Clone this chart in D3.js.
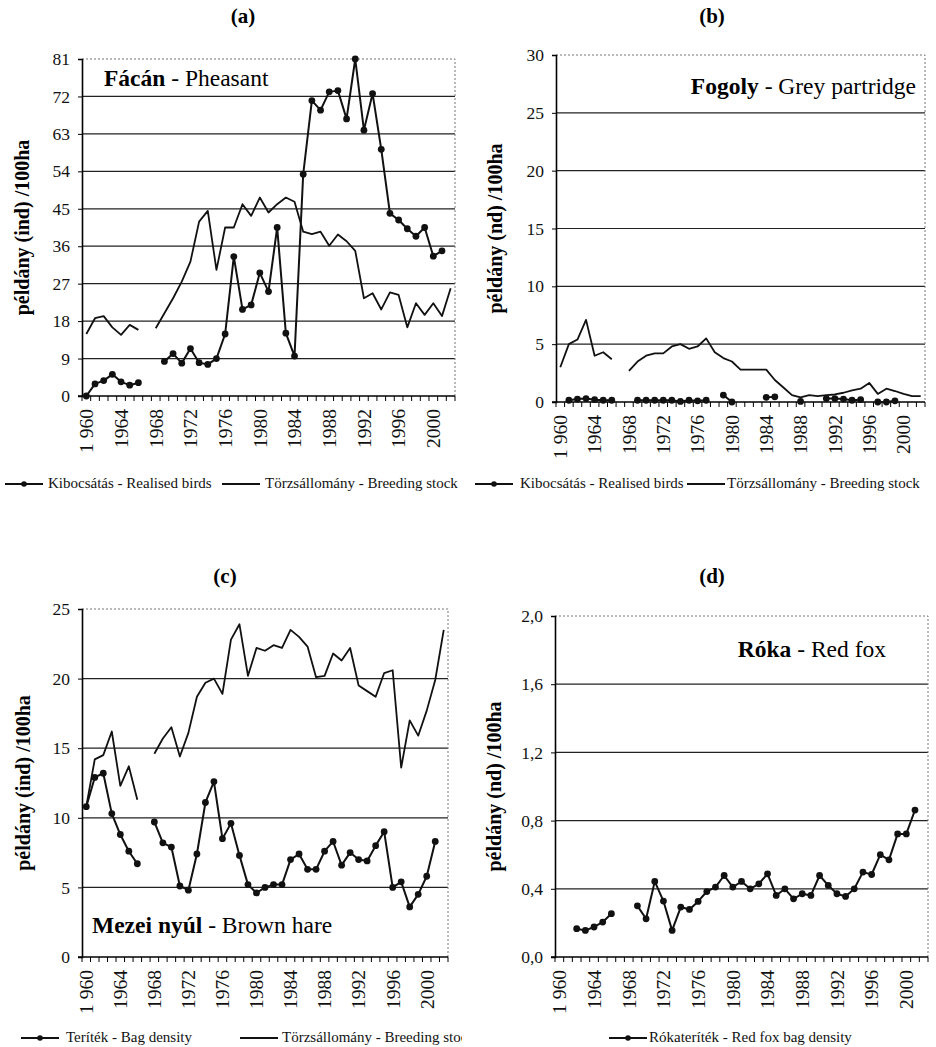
<!DOCTYPE html>
<html>
<head>
<meta charset="utf-8">
<script src="https://cdn.jsdelivr.net/npm/d3@7"></script>
<style>
  body { margin: 0; background: #fff; }
  svg { display: block; font-family: "Liberation Serif", "Times New Roman", serif; }
</style>
</head>
<body>
<script>
'use strict';

const years = [1960, 1961, 1962, 1963, 1964, 1965, 1966, 1967, 1968, 1969,
  1970, 1971, 1972, 1973, 1974, 1975, 1976, 1977, 1978, 1979,
  1980, 1981, 1982, 1983, 1984, 1985, 1986, 1987, 1988, 1989,
  1990, 1991, 1992, 1993, 1994, 1995, 1996, 1997, 1998, 1999,
  2000, 2001, 2002];
const labelYears = [1960, 1964, 1968, 1972, 1976, 1980, 1984, 1988, 1992, 1996, 2000];
const yearLabels = ['1 960', '1964', '1968', '1972', '1976', '1980', '1984', '1988', '1992', '1996', '2000'];

// (a) Fácán - Pheasant
const pheasantReleased = [0, 2.9, 3.7, 5.2, 3.4, 2.6, 3.2, null, null, 8.3,
  10.2, 7.9, 11.4, 8.0, 7.6, 9.0, 14.9, 33.5, 20.8, 21.9,
  29.6, 25.1, 40.5, 15.1, 9.6, 53.3, 71.0, 68.7, 73.1, 73.4,
  66.6, 81.0, 63.9, 72.7, 59.3, 43.9, 42.3, 40.2, 38.4, 40.5,
  33.6, 34.9, null];
const pheasantStock = [14.9, 18.7, 19.2, 16.5, 14.7, 17.1, 15.9, null, 16.3, 19.9,
  23.5, 27.5, 32.3, 41.9, 44.5, 30.3, 40.5, 40.5, 46.1, 43.3,
  47.7, 44.1, 46.1, 47.7, 46.7, 39.5, 38.9, 39.5, 36.1, 38.8,
  37.2, 34.9, 23.5, 24.7, 20.8, 24.9, 24.3, 16.5, 22.3, 19.5,
  22.3, 19.2, 25.9];

// (b) Fogoly - Grey partridge
const partridgeReleased = [null, 0.15, 0.25, 0.3, 0.2, 0.15, 0.15, null, null, 0.15,
  0.15, 0.15, 0.15, 0.15, 0.05, 0.15, 0.1, 0.15, null, 0.6,
  0, null, null, null, 0.4, 0.45, null, null, 0.05, null,
  null, 0.3, 0.3, 0.25, 0.15, 0.2, null, 0, 0, 0.1,
  null, null, null];
const partridgeStock = [3.0, 5.0, 5.4, 7.1, 4.0, 4.3, 3.7, null, 2.7, 3.5,
  4.0, 4.2, 4.2, 4.8, 5.0, 4.6, 4.8, 5.5, 4.3, 3.8,
  3.5, 2.8, 2.8, 2.8, 2.8, 1.9, 1.25, 0.6, 0.4, 0.6,
  0.5, 0.6, 0.65, 0.8, 1.0, 1.15, 1.65, 0.7, 1.15, 0.95,
  0.7, 0.5, 0.5];

// (c) Mezei nyúl - Brown hare
const hareBag = [10.8, 12.9, 13.2, 10.3, 8.8, 7.6, 6.7, null, 9.7, 8.2,
  7.9, 5.1, 4.8, 7.4, 11.1, 12.6, 8.5, 9.6, 7.3, 5.2,
  4.6, 5.0, 5.2, 5.2, 7.0, 7.4, 6.3, 6.3, 7.6, 8.3,
  6.6, 7.5, 7.0, 6.9, 8.0, 9.0, 5.0, 5.4, 3.6, 4.5,
  5.8, 8.3, null];
const hareStock = [10.8, 14.2, 14.5, 16.2, 12.3, 13.7, 11.3, null, 14.6, 15.7,
  16.5, 14.4, 16.1, 18.7, 19.7, 20.0, 18.9, 22.8, 23.9, 20.2,
  22.2, 22.0, 22.4, 22.2, 23.5, 23.0, 22.3, 20.1, 20.2, 21.8,
  21.3, 22.2, 19.5, 19.1, 18.7, 20.4, 20.6, 13.6, 17.0, 15.9,
  17.7, 19.9, 23.5];

// (d) Róka - Red fox
const foxBag = [null, null, 0.166, 0.156, 0.176, 0.205, 0.254, null, null, 0.30,
  0.224, 0.443, 0.328, 0.156, 0.293, 0.279, 0.326, 0.384, 0.41, 0.478,
  0.41, 0.443, 0.40, 0.429, 0.488, 0.361, 0.40, 0.341, 0.371, 0.361,
  0.478, 0.42, 0.371, 0.355, 0.40, 0.498, 0.484, 0.60, 0.57, 0.722,
  0.722, 0.862, null];

const ticksA = [0, 9, 18, 27, 36, 45, 54, 63, 72, 81];
const ticksB = [0, 5, 10, 15, 20, 25, 30];
const ticksC = [0, 5, 10, 15, 20, 25];
const ticksD = [0, 0.4, 0.8, 1.2, 1.6, 2.0];

const comma = (d) => d.toFixed(1).replace('.', ',');

const panels = [
  {
    box: [82, 455, 59, 396], ticks: ticksA, fmt: String, letter: '(a)', letterX: 243, letterY: 23,
    yTitle: 'példány (ind) /100ha', yTitleX: 22,
    name: ['Fácán', ' - Pheasant'], nameX: 104, nameY: 86, nameAnchor: 'start',
    dots: pheasantReleased, line: pheasantStock,
    legendY: 488,
    legend: [
      { dot: true, x: 5, tx: 48, text: 'Kibocsátás - Realised birds' },
      { dot: false, x: 222, tx: 265, text: 'Törzsállomány - Breeding stock' },
    ],
  },
  {
    box: [556, 925, 55, 402], ticks: ticksB, fmt: String, letter: '(b)', letterX: 712, letterY: 23,
    yTitle: 'példány (nd) /100ha', yTitleX: 495,
    name: ['Fogoly', ' - Grey partridge'], nameX: 916, nameY: 94, nameAnchor: 'end',
    dots: partridgeReleased, line: partridgeStock,
    legendY: 488,
    legend: [
      { dot: true, x: 475, tx: 520, text: 'Kibocsátás - Realised birds' },
      { dot: false, x: 687, tx: 727, text: 'Törzsállomány - Breeding stock' },
    ],
  },
  {
    box: [82, 448, 609, 957], ticks: ticksC, fmt: String, letter: '(c)', letterX: 225, letterY: 583,
    yTitle: 'példány (ind) /100ha', yTitleX: 23,
    name: ['Mezei nyúl', ' - Brown hare'], nameX: 92, nameY: 933, nameAnchor: 'start',
    dots: hareBag, line: hareStock,
    legendY: 1042,
    legend: [
      { dot: true, x: 21, tx: 66, text: 'Teríték - Bag density' },
      { dot: false, x: 240, tx: 282, text: 'Törzsállomány - Breeding stock', clip: 462 },
    ],
  },
  {
    box: [555, 928, 616, 957], ticks: ticksD, fmt: comma, letter: '(d)', letterX: 712, letterY: 583,
    yTitle: 'példány (nd) /100ha', yTitleX: 494,
    name: ['Róka', ' - Red fox'], nameX: 886, nameY: 657, nameAnchor: 'end',
    dots: foxBag, line: null,
    legendY: 1042,
    legend: [
      { dot: true, x: 609, tx: 649, text: 'Rókateríték - Red fox bag density' },
    ],
  },
];

const svg = d3.select('body').append('svg')
  .attr('width', 936)
  .attr('height', 1047);

svg.append('defs').append('clipPath')
  .attr('id', 'legclip')
  .append('rect').attr('x', 0).attr('y', 1000).attr('width', 462).attr('height', 47);

panels.forEach(drawPanel);

function drawPanel(p) {
  const [x0, x1, y0, y1] = p.box;
  const x = d3.scaleBand().domain(years).range([x0, x1]);
  const cx = (yr) => x(yr) + x.bandwidth() / 2;
  const y = d3.scaleLinear().domain([0, d3.max(p.ticks)]).range([y1, y0]);
  const g = svg.append('g');

  // gridlines
  g.append('g').selectAll('line')
    .data(p.ticks.slice(1, -1))
    .enter().append('line')
    .attr('x1', x0).attr('x2', x1)
    .attr('y1', (d) => y(d)).attr('y2', (d) => y(d))
    .attr('stroke', '#222').attr('stroke-width', 1.2);

  // dotted top and right border
  g.append('path')
    .attr('d', `M${x0},${y0}H${x1}V${y1}`)
    .attr('fill', 'none')
    .attr('stroke', '#777')
    .attr('stroke-width', 1)
    .attr('stroke-dasharray', '2,2');

  // y axis
  const ya = g.append('g')
    .attr('transform', `translate(${x0},0)`)
    .call(d3.axisLeft(y).tickValues(p.ticks).tickFormat(p.fmt).tickSize(4).tickPadding(8));
  ya.select('.domain').attr('stroke', '#000').attr('stroke-width', 1.6);
  ya.selectAll('.tick line').attr('stroke', '#000');
  ya.selectAll('text')
    .style('font-family', '"Liberation Serif", serif')
    .style('font-size', '17.5px')
    .attr('fill', '#111');

  // x axis line and category ticks
  g.append('line')
    .attr('x1', x0 - 4).attr('x2', x1)
    .attr('y1', y1).attr('y2', y1)
    .attr('stroke', '#000').attr('stroke-width', 1.6);
  g.append('g').selectAll('line')
    .data(years.concat([null]))
    .enter().append('line')
    .attr('x1', (d) => d === null ? x1 : x(d))
    .attr('x2', (d) => d === null ? x1 : x(d))
    .attr('y1', y1).attr('y2', y1 + 5)
    .attr('stroke', '#000').attr('stroke-width', 1);

  g.append('g').selectAll('text')
    .data(labelYears)
    .enter().append('text')
    .attr('transform', (d) => `translate(${cx(d)},${y1 + 13}) rotate(-90)`)
    .attr('text-anchor', 'end')
    .attr('dy', '0.35em')
    .style('font-size', '19.5px')
    .attr('fill', '#111')
    .text((d, i) => yearLabels[i]);

  // series
  const lineGen = d3.line()
    .defined((d) => d != null)
    .x((d, i) => cx(years[i]))
    .y((d) => y(d));

  if (p.line) {
    g.append('path')
      .datum(p.line)
      .attr('d', lineGen)
      .attr('fill', 'none')
      .attr('stroke', '#111')
      .attr('stroke-width', 1.8)
      .attr('stroke-linejoin', 'round');
  }

  g.append('path')
    .datum(p.dots)
    .attr('d', lineGen)
    .attr('fill', 'none')
    .attr('stroke', '#111')
    .attr('stroke-width', 2)
    .attr('stroke-linejoin', 'round');

  g.append('g').selectAll('circle')
    .data(p.dots.map((v, i) => ({ v, yr: years[i] })).filter((d) => d.v != null))
    .enter().append('circle')
    .attr('cx', (d) => cx(d.yr))
    .attr('cy', (d) => y(d.v))
    .attr('r', 3.4)
    .attr('fill', '#111');

  // panel letter
  g.append('text')
    .attr('x', p.letterX).attr('y', p.letterY)
    .attr('text-anchor', 'middle')
    .style('font-size', '21px')
    .style('font-weight', 'bold')
    .text(p.letter);

  // y title
  g.append('text')
    .attr('transform', `translate(${p.yTitleX},${(y0 + y1) / 2}) rotate(-90)`)
    .attr('text-anchor', 'middle')
    .attr('dy', '0.35em')
    .style('font-size', '20px')
    .style('font-weight', 'bold')
    .text(p.yTitle);

  // species name
  const nm = g.append('text')
    .attr('x', p.nameX).attr('y', p.nameY)
    .attr('text-anchor', p.nameAnchor)
    .style('font-size', '23.5px');
  nm.append('tspan').style('font-weight', 'bold').text(p.name[0]);
  nm.append('tspan').text(p.name[1]);

  // legend
  p.legend.forEach((l) => {
    const lg = g.append('g');
    if (l.clip) lg.attr('clip-path', 'url(#legclip)');
    lg.append('line')
      .attr('x1', l.x).attr('x2', l.x + 38)
      .attr('y1', p.legendY - 4).attr('y2', p.legendY - 4)
      .attr('stroke', '#111').attr('stroke-width', 1.8);
    if (l.dot) {
      lg.append('circle')
        .attr('cx', l.x + 19).attr('cy', p.legendY - 4)
        .attr('r', 2.8).attr('fill', '#111');
    }
    lg.append('text')
      .attr('x', l.tx).attr('y', p.legendY)
      .style('font-size', '15px')
      .attr('fill', '#111')
      .text(l.text);
  });
}
</script>
</body>
</html>
